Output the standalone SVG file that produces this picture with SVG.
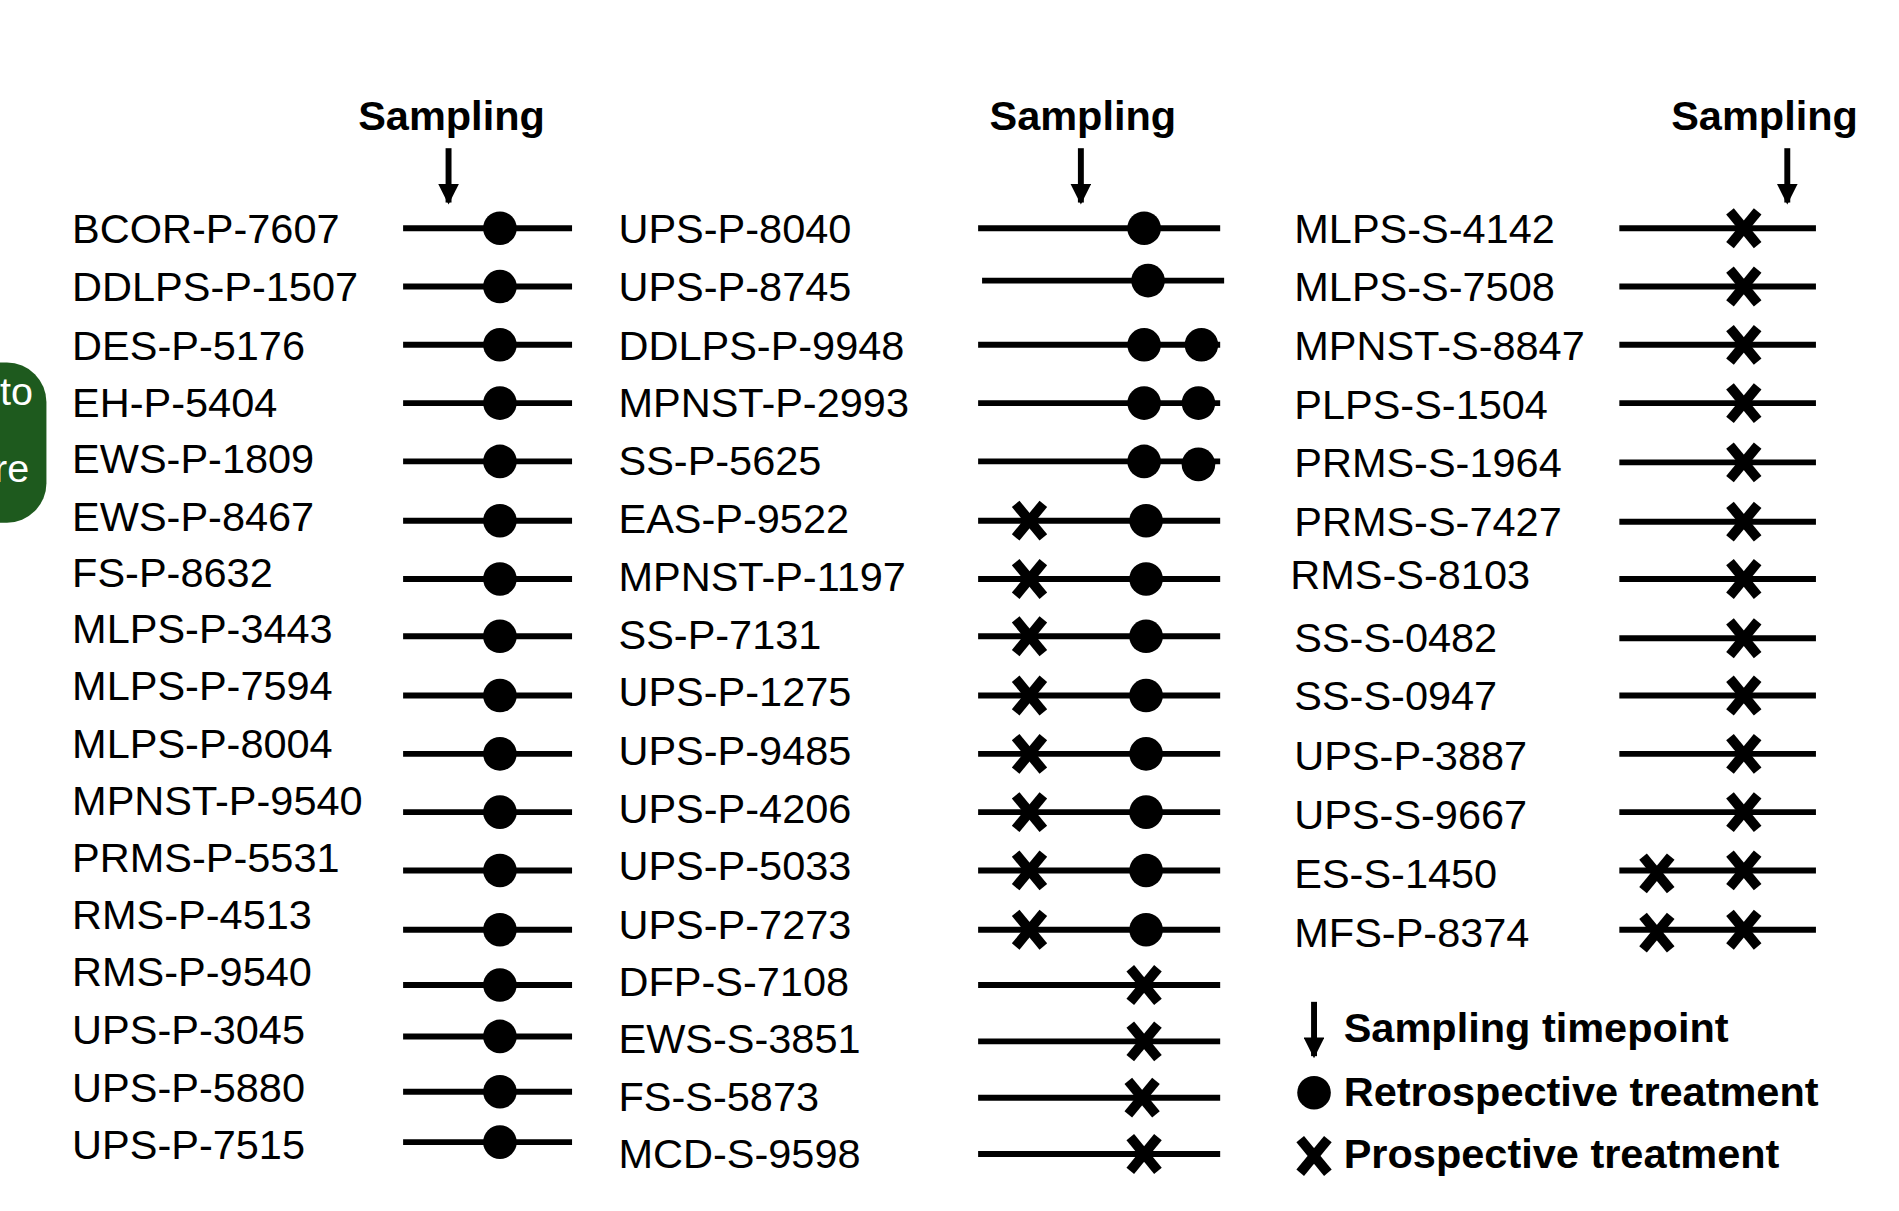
<svg xmlns="http://www.w3.org/2000/svg" width="1899" height="1211" viewBox="0 0 1899 1211">
<style>
text{font-family:"Liberation Sans",Arial,sans-serif;fill:#000}
.lab{font-size:42px}
.hd{font-size:42px;font-weight:bold;text-anchor:middle}
.lg{font-size:42px;font-weight:bold}
.ln{stroke:#000;stroke-width:6}
</style>
<defs>
<circle id="dot" r="17" fill="#000"/>
<g id="x" stroke="#000" stroke-width="10"><line x1="-14" y1="-17" x2="14" y2="17"/><line x1="14" y1="-17" x2="-14" y2="17"/></g>
<marker id="ah" viewBox="0 0 10 10" refX="9" refY="5" markerWidth="3.5" markerHeight="3.5" orient="auto"><path d="M0,0L10,5L0,10z" fill="#000"/></marker>
</defs>
<rect width="1899" height="1211" fill="#fff"/>
<g transform="scale(0.988)">
<g id="side"><rect x="-60" y="367" width="107" height="162" rx="40" fill="#1e5a1e"/><text x="0" y="410" style="font-size:40px;fill:#fff">to</text><text x="-6" y="488" style="font-size:40px;fill:#fff">re</text></g>
<g id="headers">
<text class="hd" x="457" y="132">Sampling</text>
<text class="hd" x="1096" y="132">Sampling</text>
<text class="hd" x="1786" y="132">Sampling</text>
</g>
<g id="connectors">
<line class="ln" x1="454" y1="150" x2="454" y2="205" stroke-width="5" marker-end="url(#ah)"/>
<line class="ln" x1="1094" y1="150" x2="1094" y2="205" stroke-width="5" marker-end="url(#ah)"/>
<line class="ln" x1="1809" y1="150" x2="1809" y2="205" stroke-width="5" marker-end="url(#ah)"/>
</g>
<g id="col1">
<g id="r1"><text class="lab" x="73" y="246">BCOR-P-7607</text><line class="ln" x1="408" y1="231" x2="579" y2="231"/><use href="#dot" x="506" y="231"/></g>
<g id="r2"><text class="lab" x="73" y="305">DDLPS-P-1507</text><line class="ln" x1="408" y1="290" x2="579" y2="290"/><use href="#dot" x="506" y="290"/></g>
<g id="r3"><text class="lab" x="73" y="364">DES-P-5176</text><line class="ln" x1="408" y1="349" x2="579" y2="349"/><use href="#dot" x="506" y="349"/></g>
<g id="r4"><text class="lab" x="73" y="422">EH-P-5404</text><line class="ln" x1="408" y1="408" x2="579" y2="408"/><use href="#dot" x="506" y="408"/></g>
<g id="r5"><text class="lab" x="73" y="479">EWS-P-1809</text><line class="ln" x1="408" y1="467" x2="579" y2="467"/><use href="#dot" x="506" y="467"/></g>
<g id="r6"><text class="lab" x="73" y="537">EWS-P-8467</text><line class="ln" x1="408" y1="527" x2="579" y2="527"/><use href="#dot" x="506" y="527"/></g>
<g id="r7"><text class="lab" x="73" y="594">FS-P-8632</text><line class="ln" x1="408" y1="586" x2="579" y2="586"/><use href="#dot" x="506" y="586"/></g>
<g id="r8"><text class="lab" x="73" y="651">MLPS-P-3443</text><line class="ln" x1="408" y1="644" x2="579" y2="644"/><use href="#dot" x="506" y="644"/></g>
<g id="r9"><text class="lab" x="73" y="709">MLPS-P-7594</text><line class="ln" x1="408" y1="704" x2="579" y2="704"/><use href="#dot" x="506" y="704"/></g>
<g id="r10"><text class="lab" x="73" y="767">MLPS-P-8004</text><line class="ln" x1="408" y1="763" x2="579" y2="763"/><use href="#dot" x="506" y="763"/></g>
<g id="r11"><text class="lab" x="73" y="825">MPNST-P-9540</text><line class="ln" x1="408" y1="822" x2="579" y2="822"/><use href="#dot" x="506" y="822"/></g>
<g id="r12"><text class="lab" x="73" y="883">PRMS-P-5531</text><line class="ln" x1="408" y1="881" x2="579" y2="881"/><use href="#dot" x="506" y="881"/></g>
<g id="r13"><text class="lab" x="73" y="940">RMS-P-4513</text><line class="ln" x1="408" y1="941" x2="579" y2="941"/><use href="#dot" x="506" y="941"/></g>
<g id="r14"><text class="lab" x="73" y="998">RMS-P-9540</text><line class="ln" x1="408" y1="997" x2="579" y2="997"/><use href="#dot" x="506" y="997"/></g>
<g id="r15"><text class="lab" x="73" y="1057">UPS-P-3045</text><line class="ln" x1="408" y1="1049" x2="579" y2="1049"/><use href="#dot" x="506" y="1049"/></g>
<g id="r16"><text class="lab" x="73" y="1115">UPS-P-5880</text><line class="ln" x1="408" y1="1105" x2="579" y2="1105"/><use href="#dot" x="506" y="1105"/></g>
<g id="r17"><text class="lab" x="73" y="1173">UPS-P-7515</text><line class="ln" x1="408" y1="1156" x2="579" y2="1156"/><use href="#dot" x="506" y="1156"/></g>
</g>
<g id="col2">
<g id="s1"><text class="lab" x="626" y="246">UPS-P-8040</text><line class="ln" x1="990" y1="231" x2="1235" y2="231"/><use href="#dot" x="1158" y="231"/></g>
<g id="s2"><text class="lab" x="626" y="305">UPS-P-8745</text><line class="ln" x1="994" y1="284" x2="1239" y2="284"/><use href="#dot" x="1162" y="284"/></g>
<g id="s3"><text class="lab" x="626" y="364">DDLPS-P-9948</text><line class="ln" x1="990" y1="349" x2="1235" y2="349"/><use href="#dot" x="1158" y="349"/><use href="#dot" x="1216" y="349"/></g>
<g id="s4"><text class="lab" x="626" y="422">MPNST-P-2993</text><line class="ln" x1="990" y1="408" x2="1235" y2="408"/><use href="#dot" x="1158" y="408"/><use href="#dot" x="1213" y="408"/></g>
<g id="s5"><text class="lab" x="626" y="481">SS-P-5625</text><line class="ln" x1="990" y1="467" x2="1235" y2="467"/><use href="#dot" x="1158" y="467"/><use href="#dot" x="1213" y="470"/></g>
<g id="s6"><text class="lab" x="626" y="539">EAS-P-9522</text><line class="ln" x1="990" y1="527" x2="1235" y2="527"/><use href="#x" x="1042" y="527"/><use href="#dot" x="1160" y="527"/></g>
<g id="s7"><text class="lab" x="626" y="598">MPNST-P-1197</text><line class="ln" x1="990" y1="586" x2="1235" y2="586"/><use href="#x" x="1042" y="586"/><use href="#dot" x="1160" y="586"/></g>
<g id="s8"><text class="lab" x="626" y="657">SS-P-7131</text><line class="ln" x1="990" y1="644" x2="1235" y2="644"/><use href="#x" x="1042" y="644"/><use href="#dot" x="1160" y="644"/></g>
<g id="s9"><text class="lab" x="626" y="715">UPS-P-1275</text><line class="ln" x1="990" y1="704" x2="1235" y2="704"/><use href="#x" x="1042" y="704"/><use href="#dot" x="1160" y="704"/></g>
<g id="s10"><text class="lab" x="626" y="774">UPS-P-9485</text><line class="ln" x1="990" y1="763" x2="1235" y2="763"/><use href="#x" x="1042" y="763"/><use href="#dot" x="1160" y="763"/></g>
<g id="s11"><text class="lab" x="626" y="833">UPS-P-4206</text><line class="ln" x1="990" y1="822" x2="1235" y2="822"/><use href="#x" x="1042" y="822"/><use href="#dot" x="1160" y="822"/></g>
<g id="s12"><text class="lab" x="626" y="891">UPS-P-5033</text><line class="ln" x1="990" y1="881" x2="1235" y2="881"/><use href="#x" x="1042" y="881"/><use href="#dot" x="1160" y="881"/></g>
<g id="s13"><text class="lab" x="626" y="950">UPS-P-7273</text><line class="ln" x1="990" y1="941" x2="1235" y2="941"/><use href="#x" x="1042" y="941"/><use href="#dot" x="1160" y="941"/></g>
<g id="s14"><text class="lab" x="626" y="1008">DFP-S-7108</text><line class="ln" x1="990" y1="997" x2="1235" y2="997"/><use href="#x" x="1158" y="997"/></g>
<g id="s15"><text class="lab" x="626" y="1066">EWS-S-3851</text><line class="ln" x1="990" y1="1054" x2="1235" y2="1054"/><use href="#x" x="1158" y="1054"/></g>
<g id="s16"><text class="lab" x="626" y="1124">FS-S-5873</text><line class="ln" x1="990" y1="1111" x2="1235" y2="1111"/><use href="#x" x="1156" y="1111"/></g>
<g id="s17"><text class="lab" x="626" y="1182">MCD-S-9598</text><line class="ln" x1="990" y1="1168" x2="1235" y2="1168"/><use href="#x" x="1158" y="1168"/></g>
</g>
<g id="col3">
<g id="t1"><text class="lab" x="1310" y="246">MLPS-S-4142</text><line class="ln" x1="1639" y1="231" x2="1838" y2="231"/><use href="#x" x="1765" y="231"/></g>
<g id="t2"><text class="lab" x="1310" y="305">MLPS-S-7508</text><line class="ln" x1="1639" y1="290" x2="1838" y2="290"/><use href="#x" x="1765" y="290"/></g>
<g id="t3"><text class="lab" x="1310" y="364">MPNST-S-8847</text><line class="ln" x1="1639" y1="349" x2="1838" y2="349"/><use href="#x" x="1765" y="349"/></g>
<g id="t4"><text class="lab" x="1310" y="424">PLPS-S-1504</text><line class="ln" x1="1639" y1="408" x2="1838" y2="408"/><use href="#x" x="1765" y="408"/></g>
<g id="t5"><text class="lab" x="1310" y="483">PRMS-S-1964</text><line class="ln" x1="1639" y1="468" x2="1838" y2="468"/><use href="#x" x="1765" y="468"/></g>
<g id="t6"><text class="lab" x="1310" y="543">PRMS-S-7427</text><line class="ln" x1="1639" y1="528" x2="1838" y2="528"/><use href="#x" x="1765" y="528"/></g>
<g id="t7"><text class="lab" x="1306" y="596">RMS-S-8103</text><line class="ln" x1="1639" y1="586" x2="1838" y2="586"/><use href="#x" x="1765" y="586"/></g>
<g id="t8"><text class="lab" x="1310" y="660">SS-S-0482</text><line class="ln" x1="1639" y1="646" x2="1838" y2="646"/><use href="#x" x="1765" y="646"/></g>
<g id="t9"><text class="lab" x="1310" y="719">SS-S-0947</text><line class="ln" x1="1639" y1="704" x2="1838" y2="704"/><use href="#x" x="1765" y="704"/></g>
<g id="t10"><text class="lab" x="1310" y="779">UPS-P-3887</text><line class="ln" x1="1639" y1="763" x2="1838" y2="763"/><use href="#x" x="1765" y="763"/></g>
<g id="t11"><text class="lab" x="1310" y="839">UPS-S-9667</text><line class="ln" x1="1639" y1="822" x2="1838" y2="822"/><use href="#x" x="1765" y="822"/></g>
<g id="t12"><text class="lab" x="1310" y="899">ES-S-1450</text><line class="ln" x1="1639" y1="881" x2="1838" y2="881"/><use href="#x" x="1677" y="884"/><use href="#x" x="1765" y="881"/></g>
<g id="t13"><text class="lab" x="1310" y="958">MFS-P-8374</text><line class="ln" x1="1639" y1="941" x2="1838" y2="941"/><use href="#x" x="1677" y="944"/><use href="#x" x="1765" y="941"/></g>
</g>
<g id="legend">
<line class="ln" x1="1330" y1="1014" x2="1330" y2="1069" stroke-width="5" marker-end="url(#ah)"/>
<text class="lg" x="1360" y="1055">Sampling timepoint</text>
<use href="#dot" x="1330" y="1106"/>
<text class="lg" x="1360" y="1119">Retrospective treatment</text>
<use href="#x" x="1330" y="1170"/>
<text class="lg" x="1360" y="1182">Prospective treatment</text>
</g>
</g>
</svg>
